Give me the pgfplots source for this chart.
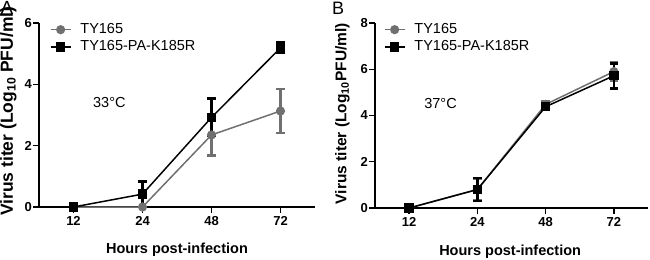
\documentclass[border=0pt]{standalone}
\usepackage{pgfplots}
\pgfplotsset{compat=1.18}
\usepackage{fontspec}
\setmainfont{Liberation Sans}
\definecolor{tygray}{RGB}{112,112,112}
\pgfplotsset{
  panel/.style={
    scale only axis,
    axis lines=left,
    axis line style={-, line width=1.4bp},
    xmin=-0.5, xmax=3.5,
    ymin=0,
    xtick={0,1,2,3},
    xticklabels={12,24,48,72},
    tick align=outside,
    major tick length=6bp,
    tick style={line width=1.4bp, black},
    ticklabel style={font=\fontsize{13bp}{15bp}\selectfont\bfseries},
    yticklabel style={inner xsep=1bp},
    /pgf/number format/assume math mode=true,
    xlabel style={font=\fontsize{14.5bp}{16bp}\selectfont\bfseries},
    xlabel={Hours post-infection},
    clip=false,
    legend cell align=left,
    legend style={draw=none, fill=none, anchor=north west,
      font=\fontsize{14.5bp}{16bp}\selectfont, row sep=4bp, column sep=9bp,
      inner sep=0pt, outer sep=0pt,
      nodes={inner sep=0pt, text height=10.5bp, text depth=3bp}},
    legend image code/.code={\draw[mark repeat=2,mark phase=2,##1] plot coordinates {(0bp,0bp) (10bp,0bp) (20bp,0bp)};},
    error bars/y dir=both,
    error bars/y explicit,
  },
  grayser/.style={tygray, line width=1.5bp, mark=*, mark size=3.8bp,
    mark options={solid, fill=tygray, draw=tygray},
    error bars/error bar style={line width=2.6bp, tygray},
    error bars/error mark options={rotate=90, mark size=4.2bp, line width=2.6bp, tygray}},
  blackser/.style={black, line width=1.5bp, mark=square*, mark size=4bp,
    mark options={solid, fill=black},
    error bars/error bar style={line width=2.6bp, black},
    error bars/error mark options={rotate=90, mark size=4.2bp, line width=2.6bp, black}},
}
\begin{document}
\begin{tikzpicture}[x=1bp,y=1bp]
\useasboundingbox (0,0) rectangle (650,259);
\node[anchor=north west, inner sep=0pt, font=\fontsize{19bp}{21bp}\selectfont] at (0.5,258) {A};
\node[anchor=north west, inner sep=0pt, font=\fontsize{18bp}{20bp}\selectfont] at (332,257) {B};
\begin{axis}[panel,
  at={(39bp,52bp)}, anchor=south west,
  width=276bp, height=184bp,
  ymax=6, ytick={0,2,4,6},
  ylabel={Virus titer (Log\textsubscript{10} PFU/ml)},
  ylabel style={font=\fontsize{17.5bp}{19bp}\selectfont\bfseries, at={(axis description cs:-0.141,0.52)}, anchor=north, inner sep=0pt},
  xlabel style={at={(axis description cs:0.5,-0.234)}, anchor=center},
  legend style={at={(axis description cs:0.025,1.022)}, xshift=4bp, yshift=-4bp},
]
\addplot+[grayser] coordinates {
  (0,0) +- (0,0)
  (1,0) +- (0,0)
  (2,2.35) +- (0,0.68)
  (3,3.13) +- (0,0.72)
};
\addlegendentry{TY165}
\addplot+[blackser] coordinates {
  (0,0) +- (0,0)
  (1,0.42) +- (0,0.42)
  (2,2.92) +- (0,0.61)
  (3,5.19) +- (0,0.17)
};
\addlegendentry{TY165-PA-K185R}
\node[font=\fontsize{14.5bp}{16bp}\selectfont] at (axis cs:0.52,3.41) {33°C};
\end{axis}
\begin{axis}[panel,
  at={(375bp,51bp)}, anchor=south west,
  width=273bp, height=185bp,
  ymax=8, ytick={0,2,4,6,8},
  ylabel={Virus titer (Log\textsubscript{10}PFU/ml)},
  ylabel style={font=\fontsize{15.5bp}{17bp}\selectfont\bfseries, at={(axis description cs:-0.147,0.51)}, anchor=north, inner sep=0pt},
  xlabel style={at={(axis description cs:0.495,-0.234)}, anchor=center},
  legend style={at={(axis description cs:0.018,1.022)}, xshift=4bp, yshift=-4bp},
]
\addplot+[grayser] coordinates {
  (0,0) +- (0,0)
  (1,0.80) +- (0,0.45)
  (2,4.48) +- (0,0.15)
  (3,5.90) +- (0,0.38)
};
\addlegendentry{TY165}
\addplot+[blackser] coordinates {
  (0,0) +- (0,0)
  (1,0.80) +- (0,0.50)
  (2,4.38) +- (0,0.12)
  (3,5.72) +- (0,0.54)
};
\addlegendentry{TY165-PA-K185R}
\node[font=\fontsize{14.5bp}{16bp}\selectfont] at (axis cs:0.46,4.53) {37°C};
\end{axis}
\end{tikzpicture}
\end{document}
